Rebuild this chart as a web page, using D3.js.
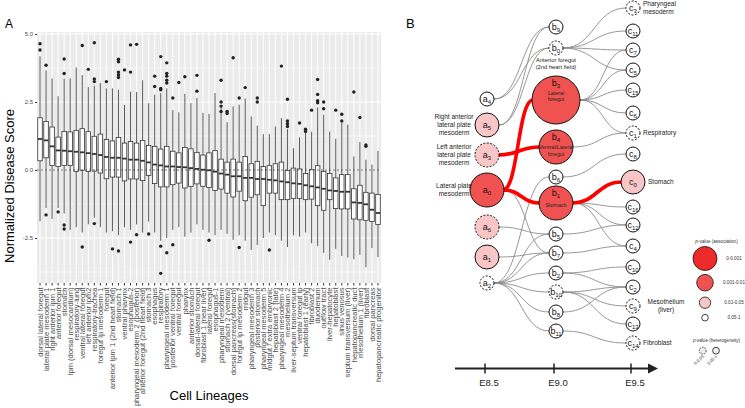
<!DOCTYPE html>
<html><head><meta charset="utf-8">
<script src="https://cdn.jsdelivr.net/npm/d3@7"></script>
<style>body{margin:0;background:#fff;} svg{display:block;font-family:"Liberation Sans",Arial,sans-serif;}</style>
</head><body><svg width="745" height="408"></svg>
<script>
// ---------------- Panel A data ----------------
const categories = ["dorsal lateral foregut","lateral plate mesoderm 1","right anterior lpm 1","anterior foregut","stomach","lpm (dorsal mesocardium)","respiratory-lung","ventral lateral foregut","left anterior lpm2","respiratory-trachea","foregut lp mesoderm 1","foregut","anterior lpm 1 (2nd heart field)","stomach 1","ventral pharynx","esophagus-2","pharyngeal mesoderm 2 (posterior)","anterior foregut (2nd heart field)","stomach 3","esophagus","respiratory","pharyngeal mesoderm 1","posterior ventral foregut","ventral foregut","pharynx","anterior stomach","dorsal-lateral foregut","fibroblast 1 (near liver)","lateral foregut","esophagus-1","pharyngeal mesoderm","stomach 2 (ventral)","dorsal pancreas(stomach)","foregut lp mesoderm 2","midgut","pharyngeal mesoderm 3","posterior stomach","pharyngeal mesoderm 5","midgut / extra embryonic","hepatoblast 2 (late)","pharyngeal mesoderm 4","mesothelium 2","liver-septum transversum","ventral foregut lp","hepatoblast 1 (early)","fibroblast 2","duodenum","outflow tract","liver-hepatocyte","hepatoblast","sinus venosus","septum transversum (liver)","hepatopancreatic duct","mesothelium 1 (liver)","fibroblast","dorsal pancreas","hepatopancreatic progenitor"];
const q3 = [1.92,1.78,1.58,1.21,1.42,1.40,1.46,1.52,1.41,1.24,1.32,1.12,1.07,1.20,0.99,1.05,0.99,1.08,0.90,0.87,0.77,0.87,0.69,0.63,0.83,0.78,0.65,0.55,0.63,0.71,0.40,0.29,0.40,0.29,0.50,0.23,0.32,0.13,0.16,0.23,0.29,-0.02,0.07,0.04,-0.13,0.01,0.16,-0.05,-0.13,-0.29,-0.17,-0.17,-0.69,-0.56,-0.82,-0.85,-0.90];
const medians = [1.14,1.09,0.87,0.72,0.71,0.69,0.67,0.65,0.62,0.59,0.55,0.48,0.45,0.45,0.42,0.38,0.38,0.34,0.28,0.20,0.17,0.13,0.13,0.11,0.10,0.07,0.04,0.01,-0.01,-0.06,-0.13,-0.17,-0.23,-0.23,-0.29,-0.29,-0.33,-0.33,-0.36,-0.38,-0.42,-0.45,-0.49,-0.51,-0.56,-0.60,-0.64,-0.69,-0.75,-0.77,-0.80,-0.80,-1.19,-1.21,-1.26,-1.46,-1.58];
const q1 = [0.34,0.45,0.17,0.13,0.17,0.17,-0.05,-0.01,-0.05,-0.04,-0.11,-0.32,-0.26,-0.26,-0.40,-0.33,-0.33,-0.39,-0.20,-0.50,-0.62,-0.62,-0.54,-0.48,-0.66,-0.60,-0.51,-0.60,-0.64,-0.75,-0.70,-0.85,-0.99,-0.78,-1.13,-1.00,-0.91,-1.31,-0.85,-0.85,-1.09,-1.09,-1.05,-1.05,-1.09,-1.07,-1.31,-1.48,-1.09,-1.42,-1.43,-1.43,-1.80,-1.83,-1.85,-1.89,-2.00];
const whiskerHigh = [4.18,3.66,3.37,2.71,3.36,3.37,3.77,3.49,3.05,3.10,3.20,3.00,3.00,2.95,2.39,2.88,2.87,3.30,2.46,2.77,2.83,3.00,2.20,2.12,2.80,2.46,2.65,2.10,2.06,2.83,2.34,1.76,2.34,2.40,2.63,1.97,1.63,1.32,1.32,1.60,1.91,1.50,0.80,1.20,1.36,1.41,2.30,2.03,1.41,1.15,1.73,1.67,0.50,1.03,0.38,0.20,0.70];
const whiskerLow = [-1.88,-1.40,-1.80,-1.40,-1.60,-2.20,-2.10,-2.30,-2.00,-1.75,-2.10,-2.30,-2.25,-2.40,-2.10,-2.20,-2.00,-2.30,-1.90,-2.30,-2.60,-2.50,-2.20,-2.10,-2.45,-2.30,-2.00,-2.20,-2.30,-2.40,-2.20,-2.35,-2.57,-2.40,-2.60,-2.94,-2.76,-2.50,-2.30,-2.40,-2.60,-2.83,-2.40,-2.45,-2.30,-2.70,-2.80,-3.05,-3.30,-2.90,-3.16,-3.22,-3.28,-3.12,-3.57,-2.87,-3.20];
const outliers = [[4.64,4.41],[3.85,-1.65],[],[-1.54],[4.08,3.55,-2.02,-2.17],[],[],[4.58,-2.83],[3.70],[4.68,3.35,3.25,-1.97],[],[3.25],[-2.90],[4.07,3.98,3.60,3.50,3.40,-2.98],[3.68],[4.60,3.60,-2.65],[4.62,-2.38],[],[-2.35],[3.45,3.07],[4.17,3.00,2.95,-2.80,-3.80],[3.94,3.55,3.45,3.30,3.20,-3.04],[2.65,-2.75],[3.22],[3.43],[],[3.48,2.90],[],[-2.58],[],[3.30,2.50,2.35,2.15],[2.15,2.08],[4.13],[2.65,-2.85],[3.03],[],[2.65,2.50],[],[-2.94],[],[3.82],[2.60,1.80,1.70,1.60],[],[1.73],[1.50,1.42],[2.20],[3.33,2.78,2.55,2.47],[2.50,2.25],[],[2.20],[2.05,1.80],[],[2.87],[1.93],[0.92,0.87],[],[]];
const yTicks = [-2.5, 0, 2.5, 5];
const yMinor = [-3.75, -1.25, 1.25, 3.75];

// ---------------- Panel B data ----------------
const stages = ["E8.5","E9.0","E9.5"];
const nodeIds   = ["a4","a5","a3","a0","a6","a1","a2","b9","b0","b3","b4","b6","b1","b5","b7","b2","b10","b8","b11","c3","c11","c7","c5","c15","c6","c1","c8","c0","c16","c12","c4","c10","c2","c9","c13","c14"];
const nodeStage = [0,0,0,0,0,0,0,1,1,1,1,1,1,1,1,1,1,1,1,2,2,2,2,2,2,2,2,2,2,2,2,2,2,2,2,2];
const nodeRow   = [99,125,155,190,227,257,283,27,48,100,147,177,203,234,253,273,292,312,331,8,31,50,70,90,113,133,154,182,207,225,246,267,287,306,324,343];
const nodeSig   = [0,1,1,2,1,1,0,0,0,2,2,0,2,0,0,0,0,0,0,0,0,0,0,0,0,0,0,1,0,0,0,0,0,0,0,0]; // association p-value class
const nodeSize  = [0,1,1,2,1,1,0,0,0,3,2,0,2,0,0,0,0,0,0,0,0,0,0,0,0,0,0,1,0,0,0,0,0,0,0,0];
const nodeHet   = [0,0,1,0,1,0,1,0,1,0,0,0,0,0,0,0,1,0,0,1,0,0,0,0,0,1,0,0,0,0,0,0,0,1,0,1]; // 1 = heterogeneity p 0-0.05 (dashed)
const nodeInner = {b3:["Lateral","foregut"], b4:["Ventral/Lateral","foregut"], b1:["Stomach"]};
const leftLabels = {a5:["Right anterior","lateral plate","mesoderm"], a3:["Left anterior","lateral plate","mesoderm"], a0:["Lateral plate","mesoderm"]};
const rightLabels = {c3:["Pharyngeal","mesoderm"], c1:["Respiratory"], c0:["Stomach"], c9:["Mesothelium","(liver)"], c14:["Fibroblast"]};
const belowLabels = {b0:["Anterior foregut","(2nd heart field)"]};
const edgeSource = ["a4","a4","a5","a5","a0","a6","a1","a2","a2","a2","a2","a2","a2","a2","b0","b0","b0","b0","b3","b3","b3","b3","b3","b4","b6","b1","b1","b1","b5","b7","b2","b2","b10","b10","b10","b8","b11","a0","a3","a0","b1"];
const edgeTarget = ["b9","b0","b9","b0","b7","b5","b7","b6","b5","b7","b2","b10","b8","b11","c3","c11","c7","c5","c7","c5","c15","c6","c1","c1","c8","c16","c12","c4","c12","c4","c10","c2","c2","c9","c13","c2","c14","b3","b4","b1","c0"];
const edgeSig    = [0,0,0,0,0,0,0,0,0,0,0,0,0,0,0,0,0,0,0,0,0,0,0,0,0,0,0,0,0,0,0,0,0,0,0,0,0,1,1,1,1];
const legendAssoc = ["0-0.001","0.001-0.01","0.01-0.05","0.05-1"];
const legendHet = ["0-0.05","0.05-1"];

const svg = d3.select("svg");

// ================= Panel A =================
const A = {left:37, right:381, top:32, bottom:283};
const x = d3.scaleBand().domain(categories).range([A.left, A.right]);
const y = d3.scaleLinear().domain([-4.154, 5.074]).range([A.bottom, A.top]);
const gA = svg.append("g");
gA.append("rect").attr("x",A.left).attr("y",A.top).attr("width",A.right-A.left).attr("height",A.bottom-A.top).attr("fill","#ebebeb");
gA.selectAll(".minor").data(yMinor).join("line").attr("x1",A.left).attr("x2",A.right).attr("y1",d=>y(d)).attr("y2",d=>y(d)).attr("stroke","#fff").attr("stroke-width",0.5);
gA.selectAll(".major").data(yTicks).join("line").attr("x1",A.left).attr("x2",A.right).attr("y1",d=>y(d)).attr("y2",d=>y(d)).attr("stroke","#fff").attr("stroke-width",1);
gA.selectAll(".vgrid").data(categories).join("line").attr("x1",d=>x(d)+x.bandwidth()/2).attr("x2",d=>x(d)+x.bandwidth()/2).attr("y1",A.top).attr("y2",A.bottom).attr("stroke","#fff").attr("stroke-width",1);

const bw = x.bandwidth()*0.75;
const boxes = gA.selectAll(".box").data(categories).join("g");
boxes.each(function(c,i){
  const g = d3.select(this), cx = x(c)+x.bandwidth()/2;
  g.append("line").attr("x1",cx).attr("x2",cx).attr("y1",y(whiskerHigh[i])).attr("y2",y(q3[i])).attr("stroke","#333").attr("stroke-width",0.8);
  g.append("line").attr("x1",cx).attr("x2",cx).attr("y1",y(q1[i])).attr("y2",y(whiskerLow[i])).attr("stroke","#333").attr("stroke-width",0.8);
  g.append("rect").attr("x",cx-bw/2).attr("width",bw).attr("y",y(q3[i])).attr("height",y(q1[i])-y(q3[i])).attr("fill","#fff").attr("stroke","#333").attr("stroke-width",0.8);
  g.append("line").attr("x1",cx-bw/2).attr("x2",cx+bw/2).attr("y1",y(medians[i])).attr("y2",y(medians[i])).attr("stroke","#333").attr("stroke-width",1.8);
  g.selectAll("circle").data(outliers[i]).join("circle").attr("cx",cx).attr("cy",d=>y(d)).attr("r",1.7).attr("fill","#222");
});
gA.append("line").attr("x1",A.left).attr("x2",A.right).attr("y1",y(0)).attr("y2",y(0)).attr("stroke","#333").attr("stroke-width",0.7).attr("stroke-dasharray","2,2");

const yAx = gA.append("g").attr("transform",`translate(${A.left},0)`).call(d3.axisLeft(y).tickValues(yTicks).tickFormat(d=>d.toFixed(1)).tickSize(2).tickPadding(2));
yAx.select(".domain").remove();
yAx.selectAll("line").attr("stroke","#333");
yAx.selectAll("text").attr("fill","#4d4d4d").style("font-size","6px").style("font-family","Liberation Sans, Arial, sans-serif");

const xAx = gA.append("g").attr("transform",`translate(0,${A.bottom})`).call(d3.axisBottom(x).tickSize(2.5));
xAx.select(".domain").remove();
xAx.selectAll("line").attr("stroke","#333");
xAx.selectAll("text").attr("transform","rotate(-90)").attr("x",-4.5).attr("y",0).attr("dy","0.35em").style("text-anchor","end")
  .attr("fill","#4d4d4d").style("font-size","7.6px").style("font-family","Liberation Sans, Arial, sans-serif");

svg.append("text").attr("x",5).attr("y",28).style("font-size","12px").text("A");
svg.append("text").attr("transform","translate(14,186) rotate(-90)").attr("text-anchor","middle").style("font-size","13px").text("Normalized Disease Score");
svg.append("text").attr("x",(A.left+A.right)/2).attr("y",400).attr("text-anchor","middle").style("font-size","13px").text("Cell Lineages");

// ================= Panel B =================
const sx = d3.scaleOrdinal().domain(stages).range([487,556,633]);
const sy = d3.scaleLinear().domain([0,350]).range([0,350]);
const rScale = d3.scaleOrdinal().domain([0,1,2,3]).range([7,12,17,24]);
const fillScale = d3.scaleOrdinal().domain([0,1,2,3]).range(["#ffffff","#f8c6c6","#f05252","#ee2b2b"]);
const nodes = nodeIds.map((id,i)=>({id, x:sx(stages[nodeStage[i]]), y:sy(nodeRow[i]), r:rScale(nodeSize[i]), fill:fillScale(nodeSig[i]), het:nodeHet[i]}));
const byId = Object.fromEntries(nodes.map(n=>[n.id,n]));
const gB = svg.append("g");
svg.append("text").attr("x",406).attr("y",28).style("font-size","13px").text("B");

const link = d3.linkHorizontal();
const edges = edgeSource.map((s,i)=>({s:byId[s], t:byId[edgeTarget[i]], sig:edgeSig[i]}));
gB.selectAll(".edge").data(edges.filter(e=>!e.sig)).join("path")
  .attr("d",e=>link({source:[e.s.x+e.s.r,e.s.y], target:[e.t.x-e.t.r,e.t.y]}))
  .attr("fill","none").attr("stroke","#8a8a8a").attr("stroke-width",0.9);
gB.selectAll(".edgeR").data(edges.filter(e=>e.sig)).join("path")
  .attr("d",e=>link({source:[e.s.x+e.s.r-1,e.s.y], target:[e.t.x-e.t.r+1,e.t.y]}))
  .attr("fill","none").attr("stroke","#ff0000").attr("stroke-width",3.6);

const ng = gB.selectAll(".node").data(nodes).join("g");
ng.append("circle").attr("cx",d=>d.x).attr("cy",d=>d.y).attr("r",d=>d.r).attr("fill",d=>d.fill)
  .attr("stroke","#111").attr("stroke-width",1).attr("stroke-dasharray",d=>d.het?"2,1.5":null);
ng.each(function(d){
  const g = d3.select(this);
  const inner = nodeInner[d.id];
  const ty = inner ? d.y - d.r + 9.5 : d.y + 2.5;
  const t = g.append("text").attr("x",d.x).attr("y",ty).attr("text-anchor","middle").style("font-size","9px").attr("fill","#111");
  t.append("tspan").text(d.id[0]);
  t.append("tspan").attr("dy",2.5).style("font-size","6px").text(d.id.slice(1));
  if(inner){
    const off = d.id==="b3" ? -7.5 : (d.id==="b4" ? 0 : 2);
    inner.forEach((s,k)=>g.append("text").attr("x",d.x).attr("y",d.y+off+k*6.5+2).attr("text-anchor","middle").style("font-size","5.3px").attr("fill","#222").text(s));
  }
});
Object.entries(leftLabels).forEach(([id,lines])=>{
  const n = byId[id], n0 = lines.length;
  lines.forEach((s,k)=>gB.append("text").attr("x",454).attr("y",n.y+(k-(n0-1)/2)*8+2.3).attr("text-anchor","middle").style("font-size","6.5px").attr("fill","#222").text(s));
});
Object.entries(rightLabels).forEach(([id,lines])=>{
  const n = byId[id];
  const centered = id==="c9";
  lines.forEach((s,k)=>gB.append("text").attr("x",centered? n.x+n.r+26 : n.x+n.r+3).attr("y",n.y+(k-(lines.length-1)/2)*8+2.3)
    .attr("text-anchor",centered?"middle":"start").style("font-size","6.5px").attr("fill","#222").text(s));
});
Object.entries(belowLabels).forEach(([id,lines])=>{
  const n = byId[id];
  lines.forEach((s,k)=>gB.append("text").attr("x",n.x).attr("y",n.y+n.r+6.5+k*7.5).attr("text-anchor","middle").style("font-size","5.8px").attr("fill","#222").text(s));
});

// timeline
const tl = gB.append("g");
tl.append("line").attr("x1",455).attr("x2",650).attr("y1",368.5).attr("y2",368.5).attr("stroke","#222").attr("stroke-width",2);
tl.append("path").attr("d","M648,363.5 L658,368.5 L648,373.5 Z").attr("fill","#222");
tl.selectAll(".tk").data(stages).join("line").attr("x1",d=>sx(d)-2).attr("x2",d=>sx(d)-2).attr("y1",363.5).attr("y2",373.5).attr("stroke","#222").attr("stroke-width",1.5);
tl.selectAll(".tl").data(stages).join("text").attr("x",d=>sx(d)+2).attr("y",386).attr("text-anchor","middle").style("font-size","9.5px").attr("fill","#222").text(d=>d);

// legend
const lg = gB.append("g");
const lt = lg.append("text").attr("x",716.5).attr("y",242.5).attr("text-anchor","middle").style("font-size","4.6px").attr("fill","#333");
lt.append("tspan").style("font-style","italic").text("p"); lt.append("tspan").text("-value (association)");
const legR = [12,8.3,5.7,3.3], legY = [258.5,282.7,302.7,317.7];
const legFill = ["#ee2b2b","#f05252","#f8c6c6","#ffffff"];
legendAssoc.forEach((s,i)=>{
  lg.append("circle").attr("cx",705).attr("cy",legY[i]).attr("r",legR[i]).attr("fill",legFill[i]).attr("stroke","#111").attr("stroke-width",0.8);
  lg.append("text").attr("x",734).attr("y",legY[i]+1.6).attr("text-anchor","middle").style("font-size","4.6px").attr("fill","#333").text(s);
});
const lt2 = lg.append("text").attr("x",716.5).attr("y",341.5).attr("text-anchor","middle").style("font-size","4.6px").attr("fill","#333");
lt2.append("tspan").style("font-style","italic").text("p"); lt2.append("tspan").text("-value (heterogeneity)");
legendHet.forEach((s,i)=>{
  const cx = 702.7 + i*13.3;
  lg.append("circle").attr("cx",cx).attr("cy",350.7).attr("r",3.4).attr("fill","#eeeeee").attr("stroke","#111").attr("stroke-width",0.8).attr("stroke-dasharray",i===0?"1.5,1":null);
  lg.append("text").attr("transform",`translate(${cx+1.5},${356.5}) rotate(-45)`).attr("text-anchor","end").style("font-size","4.3px").attr("fill","#333").text(s);
});
</script></body></html>
